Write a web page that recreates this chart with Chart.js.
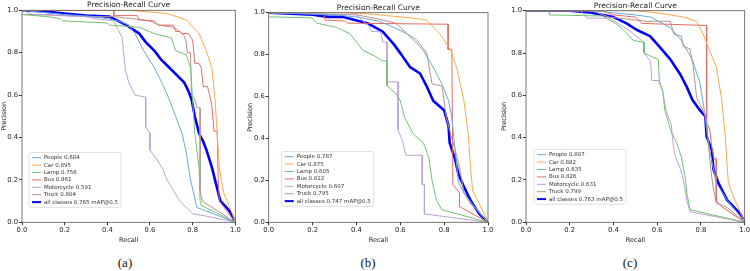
<!DOCTYPE html>
<html>
<head>
<meta charset="utf-8">
<script src="https://cdn.jsdelivr.net/npm/chart.js@4.4.1/dist/chart.umd.min.js"></script>
<style>
  body{margin:0;background:#fff;width:750px;height:271px;position:relative;overflow:hidden;}
  .pane{position:absolute;top:0;}
  .cap{position:absolute;top:255px;font:13px "Liberation Serif","DejaVu Serif",serif;color:#111;transform:translateX(-50%);}
</style>
</head>
<body>
<div class="pane" id="pa" style="left:0px;width:245px;height:250px"><canvas id="ca"></canvas></div>
<div class="pane" id="pb" style="left:246px;width:252px;height:250px"><canvas id="cb"></canvas></div>
<div class="pane" id="pc" style="left:500px;width:250px;height:250px"><canvas id="cc"></canvas></div>
<div class="cap" style="left:125px">(a)</div>
<div class="cap" style="left:368px">(b)</div>
<div class="cap" style="left:630px">(c)</div>
<script>
// class names + colours (matplotlib default cycle, thin lines look pale after downscale)
const classNames = ['People','Car','Lamp','Bus','Motorcycle','Truck'];
const classColors = ['#6aaad8','#ffa84a','#72c272','#e86a64','#bba0d8','#b8928a'];
const tickLabels = ['0.0','0.2','0.4','0.6','0.8','1.0'];

// ---- (a) ----  [recall, precision]
const apA = [0.684,0.895,0.756,0.861,0.591,0.804], mapA = 0.765;
const a_people = [[0,1],[0.1,0.99],[0.2,0.98],[0.35,0.97],[0.45,0.95],[0.5,0.93],[0.53,0.89],[0.57,0.81],[0.62,0.73],[0.66,0.65],[0.69,0.58],[0.72,0.5],[0.75,0.42],[0.77,0.33],[0.79,0.2],[0.82,0.07],[1,0]];
const a_car = [[0,1],[0.5,1],[0.68,0.985],[0.77,0.955],[0.83,0.89],[0.86,0.82],[0.89,0.73],[0.905,0.58],[0.915,0.42],[0.925,0.26],[0.945,0.14],[0.97,0.08],[0.99,0.03],[1,0]];
const a_lamp = [[0,0.98],[0.12,0.97],[0.18,0.96],[0.19,0.95],[0.4,0.94],[0.41,0.93],[0.55,0.92],[0.62,0.89],[0.7,0.87],[0.72,0.81],[0.77,0.79],[0.79,0.73],[0.8,0.58],[0.81,0.42],[0.83,0.26],[0.835,0.1],[0.84,0.08],[1,0]];
const a_bus = [[0,1],[0.43,1],[0.43,0.975],[0.54,0.975],[0.55,0.955],[0.62,0.95],[0.64,0.93],[0.71,0.93],[0.72,0.9],[0.74,0.9],[0.75,0.89],[0.78,0.89],[0.8,0.86],[0.81,0.75],[0.83,0.75],[0.84,0.73],[0.85,0.64],[0.87,0.64],[0.88,0.6],[0.89,0.55],[0.9,0.43],[0.915,0.43],[0.92,0.2],[0.925,0.1],[1,0]];
const a_moto = [[0,1],[0.05,0.98],[0.3,0.97],[0.35,0.96],[0.43,0.95],[0.45,0.91],[0.47,0.87],[0.475,0.81],[0.485,0.72],[0.5,0.66],[0.52,0.62],[0.53,0.6],[0.58,0.59],[0.58,0.45],[0.6,0.42],[0.6,0.34],[0.63,0.3],[0.66,0.25],[0.68,0.2],[0.71,0.15],[0.74,0.1],[0.77,0.07],[0.8,0.04],[0.86,0.03],[1,0]];
const a_truck = [[0,0.98],[0.1,0.98],[0.3,0.97],[0.43,0.97],[0.52,0.96],[0.6,0.95],[0.64,0.93],[0.71,0.92],[0.74,0.9],[0.76,0.88],[0.77,0.85],[0.775,0.8],[0.79,0.8],[0.795,0.6],[0.81,0.58],[0.82,0.54],[0.835,0.54],[0.835,0.15],[0.845,0.1],[1,0]];
const a_all = [[0,1],[0.1,0.995],[0.2,0.985],[0.3,0.975],[0.41,0.97],[0.45,0.95],[0.49,0.93],[0.52,0.91],[0.55,0.89],[0.58,0.85],[0.62,0.81],[0.65,0.77],[0.69,0.73],[0.72,0.7],[0.76,0.66],[0.78,0.62],[0.795,0.58],[0.81,0.5],[0.83,0.42],[0.85,0.38],[0.865,0.34],[0.89,0.26],[0.91,0.18],[0.93,0.1],[0.95,0.08],[0.975,0.05],[1,0]];

// ---- (b) ----
const apB = [0.787,0.875,0.605,0.812,0.607,0.795], mapB = 0.747;
const b_people = [[0,1],[0.3,0.99],[0.4,0.98],[0.5,0.96],[0.55,0.94],[0.63,0.9],[0.67,0.86],[0.705,0.82],[0.75,0.74],[0.79,0.66],[0.82,0.58],[0.835,0.5],[0.85,0.345],[0.865,0.19],[0.89,0.14],[0.92,0.1],[1,0]];
const b_car = [[0,1],[0.3,1],[0.45,0.995],[0.55,0.985],[0.65,0.975],[0.72,0.965],[0.78,0.9],[0.83,0.82],[0.857,0.74],[0.89,0.58],[0.91,0.42],[0.92,0.265],[0.93,0.15],[0.96,0.09],[1,0]];
const b_lamp = [[0,0.98],[0.02,0.98],[0.2,0.975],[0.22,0.95],[0.31,0.93],[0.37,0.9],[0.43,0.82],[0.49,0.79],[0.515,0.77],[0.54,0.77],[0.54,0.65],[0.58,0.615],[0.6,0.58],[0.62,0.5],[0.66,0.42],[0.705,0.38],[0.73,0.31],[0.745,0.2],[0.765,0.105],[0.79,0.06],[1,0]];
const b_bus = [[0,1],[0.25,1],[0.257,0.965],[0.35,0.96],[0.36,0.95],[0.818,0.945],[0.818,0.825],[0.835,0.825],[0.84,0.18],[0.87,0.14],[0.87,0.075],[1,0]];
const b_moto = [[0,1],[0.4,0.99],[0.43,0.96],[0.455,0.94],[0.47,0.91],[0.51,0.91],[0.52,0.86],[0.54,0.86],[0.54,0.67],[0.59,0.67],[0.59,0.44],[0.61,0.39],[0.625,0.32],[0.7,0.32],[0.7,0.18],[0.71,0.18],[0.71,0.04],[1,0]];
const b_truck = [[0,1],[0.4,0.99],[0.5,0.97],[0.58,0.95],[0.63,0.9],[0.675,0.87],[0.72,0.81],[0.745,0.66],[0.79,0.65],[0.81,0.5],[0.83,0.42],[0.85,0.345],[0.87,0.265],[0.89,0.14],[0.92,0.09],[1,0]];
const b_all = [[0,1],[0.2,0.99],[0.27,0.98],[0.34,0.98],[0.45,0.95],[0.52,0.91],[0.57,0.85],[0.605,0.8],[0.645,0.74],[0.69,0.71],[0.72,0.65],[0.75,0.58],[0.8,0.535],[0.82,0.46],[0.825,0.38],[0.85,0.3],[0.865,0.23],[0.89,0.17],[0.92,0.105],[0.96,0.04],[1,0]];

// ---- (c) ----
const apC = [0.807,0.882,0.635,0.826,0.631,0.799], mapC = 0.763;
const c_people = [[0,1],[0.3,1],[0.4,0.99],[0.5,0.98],[0.57,0.97],[0.66,0.92],[0.71,0.86],[0.76,0.77],[0.795,0.66],[0.82,0.5],[0.84,0.34],[0.87,0.185],[0.92,0.105],[1,0]];
const c_car = [[0,1],[0.5,1],[0.6,0.99],[0.72,0.97],[0.78,0.95],[0.81,0.89],[0.84,0.81],[0.87,0.735],[0.895,0.58],[0.91,0.42],[0.925,0.185],[0.955,0.105],[1,0]];
const c_lamp = [[0,1],[0.107,1],[0.107,0.98],[0.35,0.975],[0.41,0.94],[0.445,0.91],[0.49,0.86],[0.54,0.85],[0.54,0.8],[0.58,0.78],[0.605,0.77],[0.61,0.66],[0.625,0.62],[0.635,0.53],[0.66,0.44],[0.69,0.37],[0.71,0.31],[0.73,0.2],[0.735,0.14],[0.75,0.06],[1,0]];
const c_bus = [[0,1],[0.35,1],[0.4,0.98],[0.5,0.97],[0.53,0.94],[0.826,0.93],[0.826,0.47],[0.84,0.44],[0.85,0.35],[0.86,0.3],[0.87,0.3],[0.87,0.1],[0.9,0.07],[1,0]];
const c_moto = [[0,1],[0.25,1],[0.28,0.965],[0.38,0.965],[0.445,0.925],[0.48,0.9],[0.54,0.85],[0.54,0.8],[0.57,0.76],[0.575,0.67],[0.61,0.67],[0.625,0.62],[0.64,0.53],[0.665,0.46],[0.67,0.39],[0.68,0.32],[0.705,0.255],[0.72,0.2],[0.735,0.105],[0.75,0.05],[1,0]];
const c_truck = [[0,1],[0.3,1],[0.38,0.97],[0.55,0.95],[0.66,0.95],[0.675,0.89],[0.71,0.88],[0.72,0.83],[0.75,0.82],[0.765,0.735],[0.78,0.59],[0.8,0.55],[0.82,0.5],[0.835,0.36],[0.845,0.25],[0.855,0.17],[0.87,0.09],[0.92,0.07],[1,0]];
const c_all = [[0,1],[0.2,1],[0.3,0.99],[0.4,0.97],[0.46,0.94],[0.505,0.91],[0.567,0.88],[0.61,0.83],[0.66,0.77],[0.705,0.7],[0.735,0.64],[0.76,0.58],[0.795,0.53],[0.82,0.5],[0.826,0.405],[0.85,0.34],[0.857,0.25],[0.88,0.185],[0.92,0.105],[0.98,0.04],[1,0]];

const FONT = 'DejaVu Sans';

function toXY(pts){ return pts.map(p=>({x:p[0],y:p[1]})); }

// frame, title and legend drawn inside the chart, matplotlib-like
const decor = {
  id:'decor',
  afterDatasetsDraw(chart, args, o){
    const {ctx, chartArea:{left,right,top,bottom}} = chart;
    ctx.save();
    ctx.strokeStyle = '#555'; ctx.lineWidth = 0.8;
    ctx.strokeRect(left, top, right-left, bottom-top);
    ctx.fillStyle = '#222';
    ctx.font = '7.5px "'+FONT+'"';
    ctx.textAlign = 'center'; ctx.textBaseline = 'alphabetic';
    ctx.fillText('Precision-Recall Curve', (left+right)/2, top-3);

    // legend
    const ds = chart.data.datasets;
    ctx.font = '5.5px "'+FONT+'"';
    let tw = 0;
    ds.forEach(d=>{ tw = Math.max(tw, ctx.measureText(d.label).width); });
    const rowH = 7.4, pad = 3, hl = 9;
    const bw = pad + hl + 3 + tw + pad, bh = ds.length*rowH + 3;
    const bx = left + o.dx, by = bottom - o.dy - bh;
    ctx.fillStyle = 'rgba(255,255,255,0.85)';
    ctx.strokeStyle = '#d8d8d8'; ctx.lineWidth = 0.8;
    ctx.beginPath(); ctx.roundRect(bx, by, bw, bh, 1.5); ctx.fill(); ctx.stroke();
    ctx.textAlign = 'left'; ctx.textBaseline = 'middle';
    ds.forEach((d,i)=>{
      const y = by + 1.5 + rowH*(i+0.5);
      ctx.strokeStyle = d.borderColor; ctx.lineWidth = d.borderWidth>1 ? 2 : 1;
      ctx.beginPath(); ctx.moveTo(bx+pad, y); ctx.lineTo(bx+pad+hl, y); ctx.stroke();
      ctx.fillStyle = '#333';
      ctx.fillText(d.label, bx+pad+hl+3, y);
    });
    ctx.restore();
  }
};

function makePR(id, series, all, ap, map, lay){
  const datasets = series.map((s,i)=>({
    label: classNames[i]+' '+ap[i].toFixed(3),
    data: toXY(s), borderColor: classColors[i], borderWidth: 1
  }));
  datasets.push({ label:'all classes '+map.toFixed(3)+' mAP@0.5', data: toXY(all), borderColor:'#0000ff', borderWidth:2.6 });

  new Chart(document.getElementById(id), {
    type:'line',
    data:{ datasets },
    options:{
      responsive:true, maintainAspectRatio:false, animation:false,
      layout:{ padding:{ top:lay.T, right:lay.R, left:0, bottom:0 } },
      elements:{ point:{ radius:0 }, line:{ tension:0, borderJoinStyle:'round' } },
      plugins:{ legend:{display:false}, tooltip:{enabled:false}, decor:{ dx:lay.dx, dy:lay.dy } },
      scales:{
        x:{ type:'linear', min:0, max:1,
            afterFit(s){ s.height = lay.B; s.paddingLeft = 0; s.paddingRight = 0; },
            ticks:{ stepSize:0.2, padding:1, color:'#222', font:{family:FONT,size:6.8}, maxRotation:0,
                    callback:(v,i)=>tickLabels[i] },
            grid:{ drawOnChartArea:false, tickLength:3, color:'#333' },
            border:{ display:false },
            title:{ display:true, text:'Recall', color:'#222', font:{family:FONT,size:6.5}, padding:{top:0,bottom:6} } },
        y:{ min:0, max:1,
            afterFit(s){ s.width = lay.L; },
            ticks:{ stepSize:0.2, padding:1, color:'#222', font:{family:FONT,size:6.8},
                    callback:(v,i)=>tickLabels[i] },
            grid:{ drawOnChartArea:false, tickLength:3, color:'#333' },
            border:{ display:false },
            title:{ display:true, text:'Precision', color:'#222', font:{family:FONT,size:6.5}, padding:{top:0,bottom:0} } }
      }
    },
    plugins:[decor]
  });
}

makePR('ca', [a_people,a_car,a_lamp,a_bus,a_moto,a_truck], a_all, apA, mapA, {L:22, R:9.7, T:10.3, B:27.7, dx:7, dy:15});
makePR('cb', [b_people,b_car,b_lamp,b_bus,b_moto,b_truck], b_all, apB, mapB, {L:22.7, R:10, T:12.7, B:27.7, dx:13, dy:16});
makePR('cc', [c_people,c_car,c_lamp,c_bus,c_moto,c_truck], c_all, apC, mapC, {L:26, R:5.3, T:10.7, B:27.7, dx:8, dy:18});
</script>
</body>
</html>
